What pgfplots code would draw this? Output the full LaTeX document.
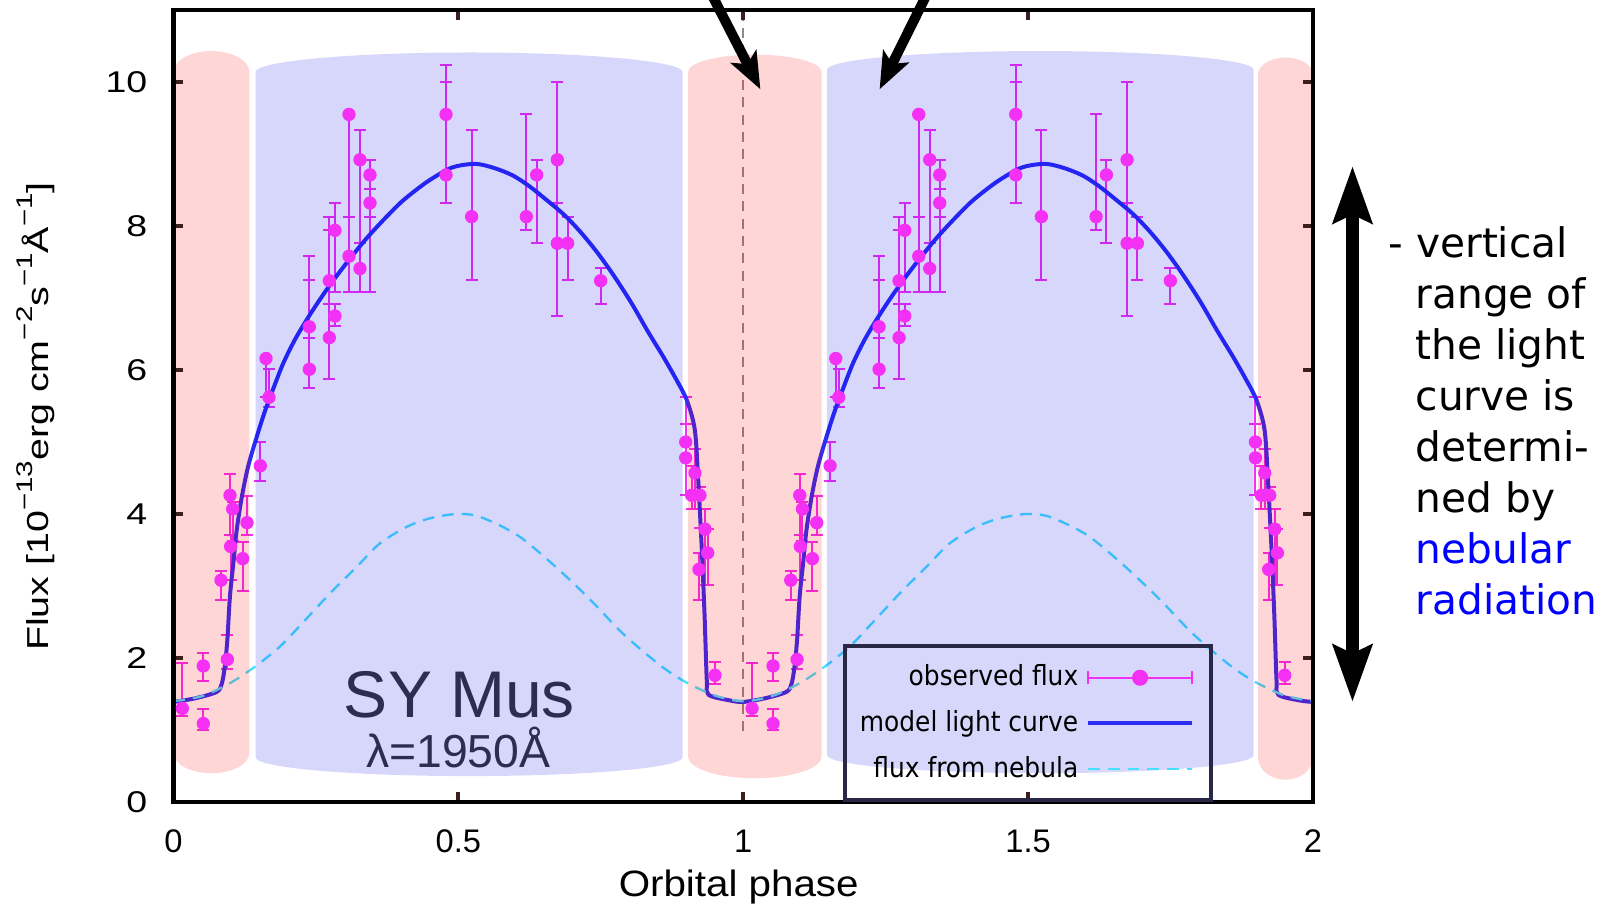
\documentclass[border=0pt]{standalone}
\usepackage{fontspec}
\setmainfont{Liberation Sans}
\newfontfamily\djv{DejaVu Sans}
\newfontfamily\legfont[FakeStretch=0.9]{DejaVu Sans}
\usepackage{graphicx}
\usepackage{pgfplots}
\usepackage{pgfplotstable}
\pgfplotsset{compat=1.18}
\usetikzlibrary{arrows.meta}

\definecolor{ptmag}{RGB}{245,48,245}
\definecolor{mblue}{RGB}{45,45,245}
\definecolor{nebc}{RGB}{70,225,255}
\definecolor{ovpink}{RGB}{255,0,0}
\definecolor{ovblue}{RGB}{0,0,230}
\definecolor{navy}{RGB}{45,45,80}
\definecolor{legnavy}{RGB}{40,40,70}
\definecolor{tickc}{RGB}{60,30,30}
\definecolor{vgray}{RGB}{150,135,135}

\newcommand{\sups}[1]{\raisebox{4.6pt}{\fontsize{6.8}{7}\selectfont #1}}

\pgfplotstableread{
x y ep em
0.0155 1.30 0.63 0.11
0.0523 1.89 0.18 0.21
0.0523 1.09 0.20 0.09
0.0834 3.08 0.13 0.27
0.0945 1.98 0.34 0.13
0.0992 4.26 0.29 0.55
0.1039 4.07 0.09 0.45
0.1003 3.55 0.16 0.47
0.1214 3.38 0.23 0.45
0.1290 3.88 0.37 0.17
0.1524 4.67 0.33 0.21
0.1624 6.16 0.02 0.54
0.1676 5.62 0.39 0.13
0.2384 6.60 0.99 0.15
0.2384 6.01 1.24 0.26
0.2735 7.24 0.89 0.33
0.2735 6.45 1.50 0.57
0.2835 7.94 0.38 0.85
0.2835 6.75 0.16 0.14
0.3080 9.55 0.00 2.46
0.3080 7.58 0.55 0.49
0.3273 8.92 0.41 1.83
0.3273 7.41 0.35 0.32
0.3449 8.71 0.21 1.62
0.3449 8.32 0.19 0.19
0.4783 9.55 0.69 1.23
0.4783 8.71 1.29 0.39
0.5233 8.13 1.20 0.88
0.6193 8.13 1.43 0.19
0.6374 8.71 0.21 0.95
0.6737 8.92 1.08 0.60
0.6737 7.76 0.56 1.01
0.6918 7.76 0.37 0.51
0.7497 7.24 0.17 0.32
0.8990 5.00 0.25 0.74
0.8990 4.78 0.84 0.52
0.9095 4.26 0.41 0.19
0.9153 4.57 0.33 0.50
0.9240 4.26 0.11 0.46
0.9329 3.79 0.28 0.78
0.9376 3.46 0.33 0.45
0.9223 3.23 0.23 0.42
0.9504 1.76 0.18 0.12
}\obsA

\pgfplotstableread{
x y ep em
1.0155 1.30 0.63 0.11
1.0523 1.89 0.18 0.21
1.0523 1.09 0.20 0.09
1.0834 3.08 0.13 0.27
1.0945 1.98 0.34 0.13
1.0992 4.26 0.29 0.55
1.1039 4.07 0.09 0.45
1.1003 3.55 0.16 0.47
1.1214 3.38 0.23 0.45
1.1290 3.88 0.37 0.17
1.1524 4.67 0.33 0.21
1.1624 6.16 0.02 0.54
1.1676 5.62 0.39 0.13
1.2384 6.60 0.99 0.15
1.2384 6.01 1.24 0.26
1.2735 7.24 0.89 0.33
1.2735 6.45 1.50 0.57
1.2835 7.94 0.38 0.85
1.2835 6.75 0.16 0.14
1.3080 9.55 0.00 2.46
1.3080 7.58 0.55 0.49
1.3273 8.92 0.41 1.83
1.3273 7.41 0.35 0.32
1.3449 8.71 0.21 1.62
1.3449 8.32 0.19 0.19
1.4783 9.55 0.69 1.23
1.4783 8.71 1.29 0.39
1.5233 8.13 1.20 0.88
1.6193 8.13 1.43 0.19
1.6374 8.71 0.21 0.95
1.6737 8.92 1.08 0.60
1.6737 7.76 0.56 1.01
1.6918 7.76 0.37 0.51
1.7497 7.24 0.17 0.32
1.8990 5.00 0.25 0.74
1.8990 4.78 0.84 0.52
1.9095 4.26 0.41 0.19
1.9153 4.57 0.33 0.50
1.9240 4.26 0.11 0.46
1.9329 3.79 0.28 0.78
1.9376 3.46 0.33 0.45
1.9223 3.23 0.23 0.42
1.9504 1.76 0.18 0.12
}\obsB

\pgfplotstableread{
x y
0.000 1.39
0.038 1.44
0.076 1.53
0.085 1.65
0.090 1.88
0.0945 2.25
0.099 2.85
0.105 3.31
0.111 3.78
0.120 4.24
0.131 4.66
0.146 5.07
0.161 5.44
0.178 5.80
0.193 6.10
0.213 6.42
0.234 6.70
0.257 6.98
0.281 7.25
0.310 7.55
0.339 7.83
0.368 8.08
0.398 8.32
0.424 8.49
0.450 8.64
0.485 8.80
0.510 8.85
0.535 8.86
0.565 8.80
0.596 8.70
0.625 8.55
0.655 8.36
0.685 8.16
0.714 7.92
0.743 7.64
0.772 7.32
0.803 6.94
0.833 6.53
0.860 6.18
0.883 5.86
0.901 5.58
0.915 5.17
0.921 4.47
0.927 3.55
0.932 2.62
0.936 1.69
0.939 1.49
0.977 1.41
1.000 1.39
1.038 1.44
1.076 1.53
1.085 1.65
1.090 1.88
1.0945 2.25
1.099 2.85
1.105 3.31
1.111 3.78
1.120 4.24
1.131 4.66
1.146 5.07
1.161 5.44
1.178 5.80
1.193 6.10
1.213 6.42
1.234 6.70
1.257 6.98
1.281 7.25
1.310 7.55
1.339 7.83
1.368 8.08
1.398 8.32
1.424 8.49
1.450 8.64
1.485 8.80
1.510 8.85
1.535 8.86
1.565 8.80
1.596 8.70
1.625 8.55
1.655 8.36
1.685 8.16
1.714 7.92
1.743 7.64
1.772 7.32
1.803 6.94
1.833 6.53
1.860 6.18
1.883 5.86
1.901 5.58
1.915 5.17
1.921 4.47
1.927 3.55
1.932 2.62
1.936 1.69
1.939 1.49
1.977 1.41
2.000 1.39
}\model

\pgfplotstableread{
x y
0.000 1.40
0.050 1.47
0.099 1.65
0.143 1.88
0.187 2.16
0.228 2.50
0.275 2.90
0.322 3.27
0.362 3.59
0.409 3.82
0.450 3.94
0.497 4.00
0.538 3.96
0.603 3.71
0.666 3.30
0.729 2.83
0.790 2.33
0.854 1.90
0.898 1.67
0.950 1.48
1.000 1.40
1.050 1.47
1.099 1.65
1.143 1.88
1.187 2.16
1.228 2.50
1.275 2.90
1.322 3.27
1.362 3.59
1.409 3.82
1.450 3.94
1.497 4.00
1.538 3.96
1.603 3.71
1.666 3.30
1.729 2.83
1.790 2.33
1.854 1.90
1.898 1.67
1.950 1.48
2.000 1.40
}\nebula

\pgfplotsset{
  obsstyle/.style={ptmag, only marks, mark=*, mark size=1.8pt,
    mark options={draw=none, fill=ptmag},
    error bars/.cd, y dir=both, y explicit,
    error bar style={line width=0.6pt, ptmag},
    error mark options={rotate=90, mark size=1.8pt, line width=0.6pt, ptmag}},
}

\begin{document}
\begin{tikzpicture}
\begin{axis}[
  at={(0pt,0pt)}, anchor=south west,
  scale only axis, width=341.85pt, height=237.6pt,
  xmin=0, xmax=2, ymin=0, ymax=11,
  xtick={0,0.5,1,1.5,2}, ytick={0,2,4,6,8,10},
  xticklabels={0,0.5,1,1.5,2},
  yticklabels={\scalebox{1.25}[1]{0},\scalebox{1.25}[1]{2},\scalebox{1.25}[1]{4},\scalebox{1.25}[1]{6},\scalebox{1.25}[1]{8},\scalebox{1.25}[1]{10}},
  /pgf/number format/assume math mode=true,
  tick align=inside,
  major tick length=3pt,
  tick style={line width=1.2pt, color=tickc},
  axis line style={line width=1.3pt, black},
  xticklabel style={anchor=base, yshift=-15.15pt, inner sep=0pt, font=\fontsize{9.8}{10}\selectfont},
  yticklabel style={anchor=east, xshift=-7.65pt, inner sep=0pt, font=\fontsize{9}{10}\selectfont},
  axis on top,
  legend plot pos=right,
  legend style={at={(0.5875,0.199)}, anchor=north west, draw=legnavy, line width=1.2pt, fill=none,
    inner xsep=2.5pt, inner ysep=3.5pt, row sep=1.9pt, column sep=0.4pt,
    font=\legfont\fontsize{8.3}{9}\selectfont, cells={anchor=east}},
]
\draw[vgray, line width=0.5pt, dash pattern=on 3pt off 2.2pt] (1,0.98) -- (1,11);

\addplot[obsstyle, /pgfplots/legend image code/.code={
    \draw[ptmag, line width=0.6pt] (0pt,0pt) -- (31.1pt,0pt);
    \draw[ptmag, line width=0.6pt] (0pt,-2pt) -- (0pt,2pt);
    \draw[ptmag, line width=0.6pt] (31.1pt,-2pt) -- (31.1pt,2pt);
    \fill[ptmag] (15.55pt,0pt) circle (1.8pt);
    \path[draw=none, fill=none] (0pt,-0.1pt) rectangle (34.4pt,0.1pt);}]
  table[x=x, y=y, y error plus=ep, y error minus=em] {\obsA};
\addlegendentry{observed flux}
\addplot[forget plot, obsstyle] table[x=x, y=y, y error plus=ep, y error minus=em] {\obsB};

\addplot[mblue, line width=1.2pt, smooth, tension=0.5,
  legend image code/.code={
    \draw[mblue, line width=1.2pt] (0pt,0pt) -- (31.1pt,0pt);
    \path[draw=none, fill=none] (0pt,-0.1pt) rectangle (34.4pt,0.1pt);}] table[x=x, y=y] {\model};
\addlegendentry{model light curve}

\addplot[nebc, line width=0.7pt, smooth, dash pattern=on 3.5pt off 2.4pt,
  legend image code/.code={
    \draw[nebc, line width=0.7pt, dash pattern=on 3.5pt off 2.4pt] (0pt,0pt) -- (31.1pt,0pt);
    \path[draw=none, fill=none] (0pt,-0.1pt) rectangle (34.4pt,0.1pt);}] table[x=x, y=y] {\nebula};
\addlegendentry{flux from nebula}

% translucent bands
\fill[ovpink, opacity=0.16] (0,0.68) -- (0,10.14) .. controls (0,10.30) and (0.0298,10.43) .. (0.0665,10.43) .. controls (0.1032,10.43) and (0.133,10.30) .. (0.133,10.14) -- (0.133,0.68) .. controls (0.133,0.525) and (0.1032,0.40) .. (0.0665,0.40) .. controls (0.0298,0.40) and (0,0.525) .. (0,0.68) -- cycle;
\fill[ovblue, opacity=0.155] (0.1443,0.62) -- (0.1443,10.14) .. controls (0.1443,10.289) and (0.31195,10.41) .. (0.51885,10.41) .. controls (0.72575,10.41) and (0.8934,10.289) .. (0.8934,10.14) -- (0.8934,0.62) .. controls (0.8934,0.476) and (0.72575,0.36) .. (0.51885,0.36) .. controls (0.31195,0.36) and (0.1443,0.476) .. (0.1443,0.62) -- cycle;
\fill[ovpink, opacity=0.16] (0.9032,0.63) -- (0.9032,10.14) .. controls (0.9032,10.273) and (0.95565,10.38) .. (1.02035,10.38) .. controls (1.08505,10.38) and (1.1375,10.273) .. (1.1375,10.14) -- (1.1375,0.63) .. controls (1.1375,0.464) and (1.08505,0.33) .. (1.02035,0.33) .. controls (0.95565,0.33) and (0.9032,0.464) .. (0.9032,0.63) -- cycle;
\fill[ovblue, opacity=0.155] (1.147,0.65) -- (1.147,10.17) .. controls (1.147,10.314) and (1.3147,10.43) .. (1.5215,10.43) .. controls (1.7283,10.43) and (1.896,10.314) .. (1.896,10.17) -- (1.896,0.65) .. controls (1.896,0.512) and (1.7283,0.40) .. (1.5215,0.40) .. controls (1.3147,0.40) and (1.147,0.512) .. (1.147,0.65) -- cycle;
\fill[ovpink, opacity=0.16] (1.9035,0.62) -- (1.9035,10.10) .. controls (1.9035,10.233) and (1.92505,10.34) .. (1.95175,10.34) .. controls (1.97845,10.34) and (2.0,10.233) .. (2.0,10.10) -- (2.0,0.62) .. controls (2.0,0.449) and (1.97845,0.31) .. (1.95175,0.31) .. controls (1.92505,0.31) and (1.9035,0.449) .. (1.9035,0.62) -- cycle;

\node[anchor=base, text=navy, inner sep=0pt, font=\fontsize{19.8}{22}\selectfont] at (axis cs:0.502,1.18) {SY Mus};
\node[anchor=base, text=navy, inner sep=0pt, font=\fontsize{13.9}{15}\selectfont] at (axis cs:0.4997,0.476) {λ=1950Å};
\end{axis}

% annotation arrows
\draw[line width=3pt, -{Stealth[length=11pt, width=8.5pt, inset=2.5pt]}] (157.68pt,249.6pt) -- (176.07pt,213.81pt);
\draw[line width=3pt, -{Stealth[length=11pt, width=8.5pt, inset=2.5pt]}] (229.62pt,249.6pt) -- (211.83pt,213.81pt);
\draw[line width=3.75pt, {Stealth[length=17pt, width=11.5pt, inset=2.5pt]}-{Stealth[length=17pt, width=11.5pt, inset=2.5pt]}] (353.7pt,30pt) -- (353.7pt,190.8pt);

% axis labels
\node[rotate=90, anchor=base, inner sep=0pt, font=\fontsize{9.1}{10}\selectfont] at (-37.56pt,115.6pt) {\scalebox{1.3}[1]{Flux [10\sups{−13}erg cm\sups{−2}s\sups{−1}Å\sups{−1}]}};
\node[anchor=base, inner sep=0pt, font=\fontsize{11}{12}\selectfont] at (169.56pt,-28.2pt) {\scalebox{1.1}[1]{Orbital phase}};

% right-hand note
\begin{scope}[every node/.style={anchor=base west, inner sep=0pt, font=\djv\fontsize{12.2}{15}\selectfont}]
\node at (364.35pt,163.5pt) {- vertical};
\node at (372.45pt,148.2pt) {range of};
\node at (372.45pt,132.9pt) {the light};
\node at (372.45pt,117.6pt) {curve is};
\node at (372.45pt,102.3pt) {determi-};
\node at (372.45pt,87.0pt) {ned by};
\node[text=blue] at (372.45pt,71.7pt) {nebular};
\node[text=blue] at (372.45pt,56.4pt) {radiation};
\end{scope}

\pgfresetboundingbox
\path[use as bounding box] (-52.05pt,-30.9pt) rectangle (428.25pt,240.6pt);
\end{tikzpicture}
\end{document}
